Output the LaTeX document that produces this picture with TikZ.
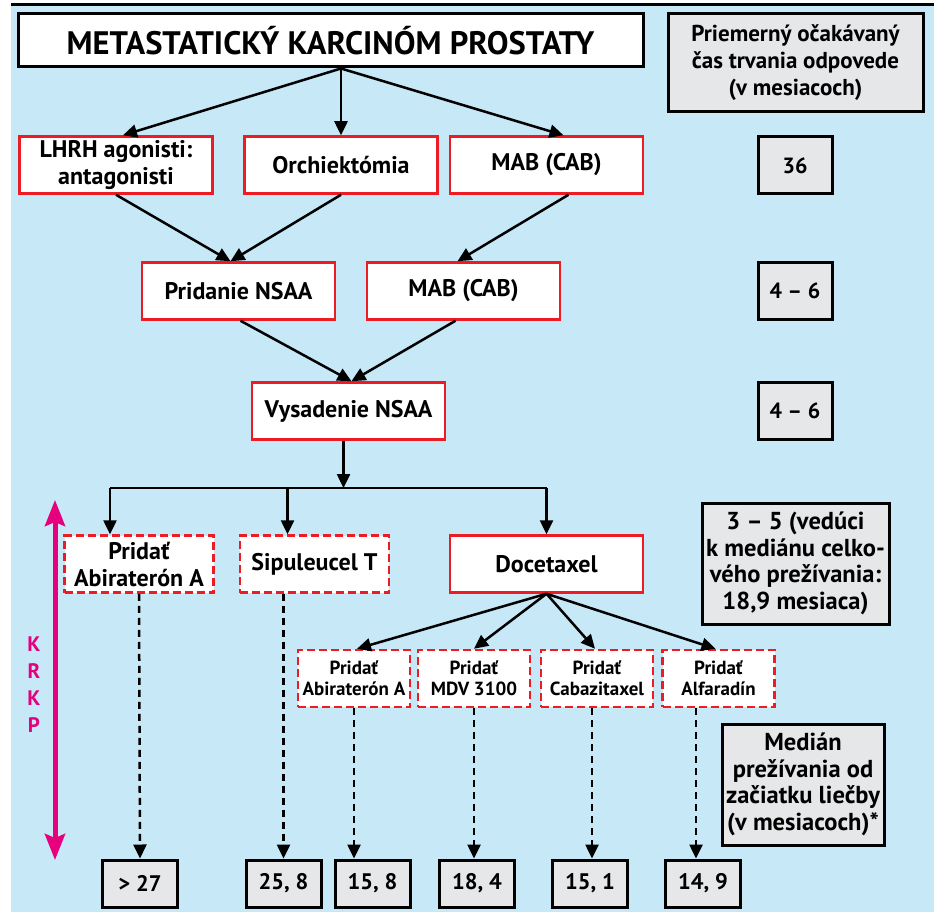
\documentclass[tikz,border=0pt]{standalone}
\usepackage{fontspec}
\setmainfont{PT Sans}
\usepackage{xcolor}
\usetikzlibrary{arrows.meta,positioning}

\definecolor{bgblue}{HTML}{C6E8F7}
\definecolor{boxred}{HTML}{ED1C24}
\definecolor{boxgray}{HTML}{E6E7E8}
\definecolor{krkp}{HTML}{E6007E}

\begin{document}
\begin{tikzpicture}[
    x=1pt, y=-1pt,
    title/.style={rectangle, draw, line width=3pt, fill=white, minimum width=625pt, minimum height=53pt, font=\fontsize{32.5}{36}\selectfont\bfseries},
    therapy/.style={rectangle, draw=boxred, line width=2.5pt, fill=white, minimum width=193pt, minimum height=57pt, align=center, inner sep=2pt, font=\fontsize{24}{27}\selectfont\bfseries},
    option/.style={therapy, dash pattern=on 8pt off 4pt, minimum width=149pt},
    addon/.style={option, minimum width=112pt, font=\fontsize{19}{21}\selectfont\bfseries},
    months/.style={rectangle, draw, line width=3pt, fill=boxgray, minimum width=74pt, minimum height=57pt, align=center, inner sep=2pt, font=\fontsize{22}{26}\selectfont\bfseries},
    note/.style={months, font=\fontsize{24.5}{26.5}\selectfont\bfseries},
    result/.style={months, minimum width=75pt, minimum height=47pt, font=\fontsize{22.5}{26}\selectfont\bfseries},
    arrow/.style={-{Triangle[length=14pt, width=13pt]}, line width=2.5pt},
    line/.style={line width=2.5pt},
    dasharrow/.style={arrow, dash pattern=on 7pt off 5pt},
    span/.style={{Stealth[length=26pt, width=20pt, inset=4pt]}-{Stealth[length=26pt, width=20pt, inset=4pt]}, line width=5pt, draw=krkp}
]

\useasboundingbox (0,0) rectangle (934,912);
\fill[bgblue] (11,5) rectangle (934,912);
\draw[line width=3pt] (11,5) -- (934,5);

% header row
\node[title] (start) at (330.5,40.5) {METASTATICKÝ KARCINÓM PROSTATY};
\node[note, minimum width=255pt, minimum height=98pt, font=\fontsize{23}{27}\selectfont\bfseries] (head) at (795.5,63) {Priemerný očakávaný\\čas trvania odpovede\\(v mesiacoch)};

% first line of therapy
\node[therapy] (lhrh) at (116,165) {LHRH agonisti:\\antagonisti};
\node[therapy] (orch) at (341,165) {Orchiektómia};
\node[therapy] (mabone) at (546.5,165) {MAB (CAB)};
\node[months] (mthree) at (795,165.5) {36};

% second line
\node[therapy] (nsaa) at (238.5,291) {Pridanie NSAA};
\node[therapy] (mabtwo) at (463.5,291) {MAB (CAB)};
\node[months] (mfour) at (795,291) {4 -- 6};

% withdrawal
\node[therapy] (vys) at (348.5,411) {Vysadenie NSAA};
\node[months] (mfive) at (795,411) {4 -- 6};

% KRKP options
\node[option] (abi) at (139,564) {Pridať\\Abiraterón A};
\node[option] (sip) at (314.5,564) {Sipuleucel T};
\node[therapy] (doce) at (546.5,564) {Docetaxel};
\node[note, minimum width=187pt, minimum height=121pt] (doceinfo) at (795.5,563.5) {3 -- 5 (vedúci\\k mediánu celko-\\vého prežívania:\\18,9 mesiaca)};

% after docetaxel
\node[addon] (addabi) at (354,678.5) {Pridať\\Abiraterón A};
\node[addon] (addmdv) at (474,678.5) {Pridať\\MDV 3100};
\node[addon] (addcab) at (597,678.5) {Pridať\\Cabazitaxel};
\node[addon] (addalf) at (718.5,678.5) {Pridať\\Alfaradín};
\node[note, minimum width=162pt, minimum height=121pt] (median) at (803,784.5) {Medián\\prežívania od\\začiatku liečby\\(v mesiacoch)*};

% survival
\node[result] (rabi) at (140,883.5) {> 27};
\node[result] (rsip) at (283.5,883.5) {25, 8};
\node[result] (raddabi) at (372.5,883.5) {15, 8};
\node[result] (rmdv) at (477,883.5) {18, 4};
\node[result] (rcab) at (590,883.5) {15, 1};
\node[result] (ralf) at (703,883.5) {14, 9};

% KRKP span
\coordinate (ktop) at (55,500);
\coordinate (kbot) at (55,860);
\draw[span] (ktop) -- (kbot);
\node[text=krkp, align=center, font=\fontsize{21}{27}\selectfont\bfseries] (krkp) at (34,685) {K\\R\\K\\P};

% connectors
\draw[arrow] (orch.north |- start.south) -- ([xshift=7pt]lhrh.north);
\draw[arrow] (orch.north |- start.south) -- (orch.north);
\draw[arrow] (orch.north |- start.south) -- ([xshift=17pt]mabone.north);

\draw[arrow] (lhrh.south) -- ([xshift=-8pt]nsaa.north);
\draw[arrow] (orch.south) -- ([xshift=-8pt]nsaa.north);
\draw[arrow] ([xshift=22pt]mabone.south) -- ([xshift=-6pt]mabtwo.north);

\draw[arrow] ([xshift=2pt]nsaa.south) -- ([xshift=3pt]vys.north);
\draw[arrow] ([xshift=-8pt]mabtwo.south) -- ([xshift=3pt]vys.north);

\coordinate (bar) at (0,488);
\draw[arrow] ([xshift=-5pt]vys.south) -- ([xshift=-5pt]vys.south |- bar);
\draw[line] ([xshift=-29pt]abi.north |- bar) -- (doce.north |- bar);
\draw[arrow] ([xshift=-29pt]abi.north |- bar) -- ([xshift=-29pt]abi.north);
\draw[arrow] ([xshift=-27pt]sip.north |- bar) -- ([xshift=-27pt]sip.north);
\draw[arrow] (doce.north |- bar) -- (doce.north);

\draw[arrow] (doce.south) -- ([xshift=3pt]addabi.north);
\draw[arrow] (doce.south) -- (addmdv.north);
\draw[arrow] (doce.south) -- ([xshift=-2pt]addcab.north);
\draw[arrow] (doce.south) -- ([xshift=-3pt]addalf.north);

\draw[dasharrow] (abi.south) -- (rabi.north);
\draw[dasharrow] (rsip.north |- sip.south) -- (rsip.north);
\draw[dasharrow] (addabi.south) -- (addabi.south |- raddabi.north);
\draw[dasharrow] (addmdv.south) -- (addmdv.south |- rmdv.north);
\draw[dasharrow] ([xshift=-5pt]addcab.south) -- ([xshift=-5pt]addcab.south |- rcab.north);
\draw[dasharrow] ([xshift=-7pt]ralf.north |- addalf.south) -- ([xshift=-7pt]ralf.north);

\end{tikzpicture}
\end{document}
